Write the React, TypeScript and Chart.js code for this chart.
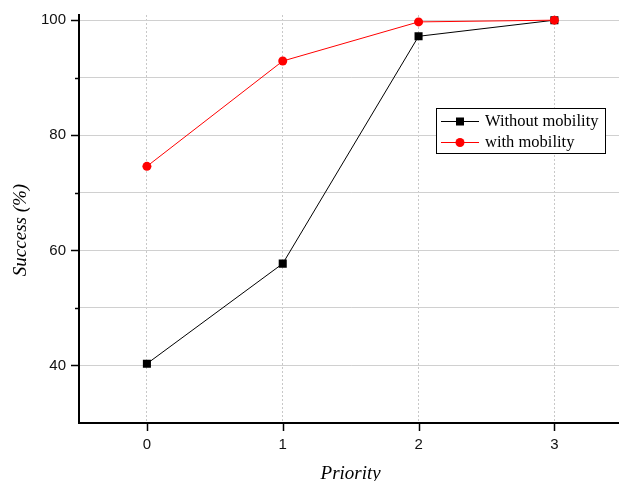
import React, { useEffect, useRef } from "react";
import { Chart, registerables } from "chart.js";

Chart.register(...registerables);

const priorities = [0, 1, 2, 3];
const withoutMobility = [40.3, 57.7, 97.2, 100];
const withMobility = [74.6, 92.9, 99.7, 100];
const seriesLabels = ["Without mobility", "with mobility"];
const yGridTicks = [30, 40, 50, 60, 70, 80, 90, 100];
const yLabelTicks = [40, 60, 80, 100];
const yTitle = "Success (%)";
const xTitle = "Priority";

const W = 628;
const H = 481;

const axisTicksPlugin = {
  id: "axisTicks",
  afterDraw(chart: any) {
    const { ctx, scales } = chart;
    const xs = scales.x;
    const ys = scales.y;
    ctx.save();
    ctx.strokeStyle = "#000";
    ctx.lineWidth = 1.5;
    ys.ticks.forEach((t: any) => {
      if (t.value <= ys.min) return;
      const py = Math.round(ys.getPixelForValue(t.value)) + 0.5;
      const len = yLabelTicks.includes(t.value) ? 8 : 4;
      ctx.beginPath();
      ctx.moveTo(xs.left, py);
      ctx.lineTo(xs.left - len, py);
      ctx.stroke();
    });
    xs.ticks.forEach((t: any) => {
      const px = Math.round(xs.getPixelForValue(t.value)) + 0.5;
      ctx.beginPath();
      ctx.moveTo(px, ys.bottom);
      ctx.lineTo(px, ys.bottom + 8);
      ctx.stroke();
    });
    // y axis title
    ctx.translate(21, (ys.top + ys.bottom) / 2 + 11);
    ctx.rotate(-Math.PI / 2);
    ctx.fillStyle = "#000";
    ctx.font = "italic 19px 'Liberation Serif'";
    ctx.textAlign = "center";
    ctx.textBaseline = "middle";
    ctx.fillText(yTitle, 0, 0);
    ctx.restore();
  },
};

const legendPlugin = {
  id: "boxLegend",
  afterDraw(chart: any) {
    const { ctx } = chart;
    const bx = 436.5, by = 108.5, bw = 169, bh = 45;
    ctx.save();
    ctx.fillStyle = "#fff";
    ctx.fillRect(bx, by, bw, bh);
    ctx.strokeStyle = "#000";
    ctx.lineWidth = 1;
    ctx.strokeRect(bx, by, bw, bh);
    const rows = [
      { y: 121, color: "#000", style: "rect" },
      { y: 142, color: "#ff0000", style: "circle" },
    ];
    rows.forEach((r, i) => {
      ctx.strokeStyle = r.color;
      ctx.lineWidth = 1;
      ctx.beginPath();
      ctx.moveTo(441, r.y + 0.5);
      ctx.lineTo(479, r.y + 0.5);
      ctx.stroke();
      ctx.fillStyle = r.color;
      if (r.style === "rect") {
        ctx.fillRect(456, r.y - 3.5, 8, 8);
      } else {
        ctx.beginPath();
        ctx.arc(460, r.y + 0.5, 4.5, 0, Math.PI * 2);
        ctx.fill();
      }
      ctx.fillStyle = "#000";
      ctx.font = "16.5px 'Liberation Serif'";
      ctx.textBaseline = "middle";
      ctx.textAlign = "left";
      ctx.fillText(seriesLabels[i], 485, r.y + 1);
    });
    ctx.restore();
  },
};

export default function App() {
  const ref = useRef<HTMLCanvasElement | null>(null);

  useEffect(() => {
    if (!ref.current) return;
    const chart = new Chart(ref.current, {
      type: "line",
      data: {
        datasets: [
          {
            label: seriesLabels[0],
            data: priorities.map((p, i) => ({ x: p, y: withoutMobility[i] })),
            borderColor: "#000",
            backgroundColor: "#000",
            borderWidth: 1,
            pointStyle: "rect",
            pointRadius: 5.7,
            pointBorderWidth: 0,
            order: 1,
          },
          {
            label: seriesLabels[1],
            data: priorities.map((p, i) => ({ x: p, y: withMobility[i] })),
            borderColor: "#ff0000",
            backgroundColor: "#ff0000",
            borderWidth: 1,
            pointStyle: "circle",
            pointRadius: 4.5,
            pointBorderWidth: 0,
            order: 0,
          },
        ],
      },
      options: {
        animation: false,
        responsive: false,
        devicePixelRatio: 1,
        layout: { padding: { left: 0, right: 0, top: 15, bottom: 0 } },
        plugins: {
          legend: { display: false },
          tooltip: { enabled: false },
        },
        scales: {
          x: {
            type: "linear",
            min: -0.5,
            max: 3.5,
            ticks: {
              stepSize: 1,
              padding: 13,
              color: "#111",
              font: { family: "'Liberation Sans'", size: 15 },
              callback: (v: any) => String(v),
            },
            afterBuildTicks: (s: any) => {
              s.ticks = priorities.map((p) => ({ value: p }));
            },
            afterFit: (s: any) => {
              s.height = 58;
              s.paddingLeft = 0;
              s.paddingRight = 0;
            },
            grid: {
              color: "#c8c8c8",
              lineWidth: 1,
              drawTicks: false,
            },
            border: { display: true, color: "#000", width: 2, dash: [2, 2] },
            title: {
              display: true,
              text: xTitle,
              color: "#000",
              font: { family: "'Liberation Serif'", size: 19, style: "italic", lineHeight: 1 },
              padding: { top: 0, bottom: -2 },
            },
          },
          y: {
            type: "linear",
            min: 30,
            max: 100.9,
            ticks: {
              padding: 13,
              color: "#111",
              font: { family: "'Liberation Sans'", size: 15 },
              callback: (v: any) => (yLabelTicks.includes(v) ? String(v) : ""),
            },
            afterBuildTicks: (s: any) => {
              s.ticks = yGridTicks.map((v) => ({ value: v }));
            },
            afterFit: (s: any) => {
              s.width = 79;
              s.paddingTop = 0;
              s.paddingBottom = 0;
            },
            grid: {
              color: "#d0d0d0",
              lineWidth: 1,
              drawTicks: false,
            },
            border: { display: true, color: "#000", width: 2 },
            title: { display: false },
          },
        },
      },
      plugins: [axisTicksPlugin, legendPlugin],
    } as any);
    return () => chart.destroy();
  }, []);

  return (
    <div
      style={{
        position: "fixed",
        left: 0,
        top: 0,
        width: 619,
        height: 481,
        overflow: "hidden",
        background: "#fff",
      }}
    >
      <canvas ref={ref} width={W} height={H} style={{ display: "block", width: W, height: H }} />
    </div>
  );
}
